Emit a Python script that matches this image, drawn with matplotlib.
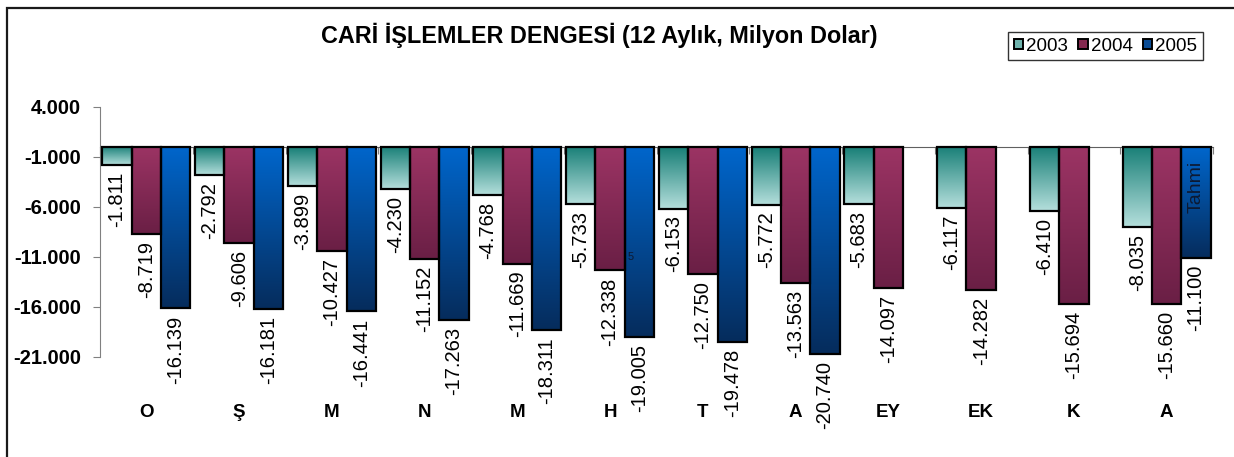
import numpy as np
import matplotlib
matplotlib.use('Agg')
import matplotlib.pyplot as plt
from matplotlib.colors import LinearSegmentedColormap
from matplotlib.patches import Rectangle, Patch

plt.rcParams['font.family'] = ['Liberation Sans', 'DejaVu Sans']

# aylar (12 aylık kümülatif cari denge, milyon $)
aylar = ['O', 'Ş', 'M', 'N', 'M', 'H', 'T', 'A', 'EY', 'EK', 'K', 'A']
yillar = ['2003', '2004', '2005']
d2003 = [-1811, -2792, -3899, -4230, -4768, -5733, -6153, -5772, -5683, -6117, -6410, -8035]
d2004 = [-8719, -9606, -10427, -11152, -11669, -12338, -12750, -13563, -14097, -14282, -15694, -15660]
d2005 = [-16139, -16181, -16441, -17263, -18311, -19005, -19478, -20740, np.nan, np.nan, np.nan, -11100]
y_ticks = list(range(-21000, 4001, 5000))

# renk geçişleri (üst, alt)
renkler = [('#187f77', '#b5dfdc'), ('#9c3464', '#6a1f45'), ('#0066cc', '#062c5c')]
orta = ['#6fb3ad', '#84294f', '#0a4c95']


def tr_fmt(v):
    return f"{int(v):,}".replace(',', '.')


def gradyan(ax, bar, ust, alt):
    x0 = bar.get_x()
    w = bar.get_width()
    ya, yb = sorted([bar.get_y(), bar.get_y() + bar.get_height()])
    cmap = LinearSegmentedColormap.from_list('g', [alt, ust])
    grad = np.linspace(0, 1, 256).reshape(-1, 1)
    im = ax.imshow(grad, extent=(x0, x0 + w, ya, yb), origin='lower', cmap=cmap,
                   aspect='auto', zorder=2.9, interpolation='bilinear')
    im.set_clip_path(bar)


fig = plt.figure(figsize=(12.34, 4.57), dpi=100)
ax = fig.add_axes([100 / 1234, 1 - 357 / 457, 1113 / 1234, 250 / 457])

genislik = 0.316
x = np.arange(len(aylar)) + 0.5
seriler = [d2003, d2004, d2005]

for k, veri in enumerate(seriler):
    for i, v in enumerate(veri):
        if np.isnan(v):
            continue
        xc = x[i] + (k - 1) * genislik
        b = ax.bar(xc, v, width=genislik, facecolor='none', edgecolor='black',
                   linewidth=1.6, zorder=3)[0]
        gradyan(ax, b, renkler[k][0], renkler[k][1])
        ax.annotate(tr_fmt(v), xy=(xc, v), xytext=(0, -5), textcoords='offset points',
                    rotation=90, ha='center', va='top', fontsize=14.5, zorder=4,
                    bbox=dict(boxstyle='square,pad=0.1', fc='white', ec='none'))

# tahmin notu
xt = x[11] + genislik
ax.text(xt, -4000, 'Tahmi', rotation=90, ha='center', va='center',
        fontsize=14, color='#0d1a33', zorder=5)
ax.text(x[5] + genislik / 2 + 0.03, -11000, '5', ha='left', va='center',
        fontsize=8, color='#0d1a33', zorder=5)

ax.set_xlim(0, 12)
ax.set_ylim(-21000, 4000)
ax.set_yticks(y_ticks)
ax.set_yticklabels([tr_fmt(t) for t in y_ticks], fontsize=14.5, fontweight='bold')
ax.set_xticks(np.arange(0, 13))
ax.set_xticklabels([])
ax.tick_params(axis='y', length=5, color='#808080', pad=8.6)
ax.tick_params(axis='x', length=5, color='#808080', direction='out')

for s in ['top', 'right']:
    ax.spines[s].set_visible(False)
ax.spines['left'].set_color('#808080')
ax.spines['bottom'].set_position(('data', 0))
ax.spines['bottom'].set_color('#606060')
ax.spines['bottom'].set_zorder(2)

for i, a in enumerate(aylar):
    ax.text(x[i], -26570, a, ha='center', va='center', fontsize=13.5,
            fontweight='bold', clip_on=False)

fig.text(599 / 1234, 1 - 42.7 / 457, 'CARİ İŞLEMLER DENGESİ (12 Aylık, Milyon Dolar)',
         ha='center', va='baseline', fontsize=16.8, fontweight='bold')

handles = [Patch(facecolor=orta[k], edgecolor='black', linewidth=1.4, label=yillar[k])
           for k in range(3)]
leg = fig.legend(handles=handles, loc='center', ncol=3,
                 bbox_to_anchor=(1105.5 / 1234, 1 - 46.2 / 457), bbox_transform=fig.transFigure,
                 fontsize=13.5, handlelength=0.5, handleheight=0.5, handletextpad=0.15,
                 columnspacing=0.55, borderpad=0.3, borderaxespad=0, fancybox=False)
leg.get_frame().set_edgecolor('black')
leg.get_frame().set_linewidth(1.0)

# dış çerçeve
fig.add_artist(Rectangle((7 / 1234, -0.2), 1.5, 1.2 - 8 / 457, transform=fig.transFigure,
                         fill=False, linewidth=1.6, edgecolor='#1a1a1a'))

fig.savefig('out.png', dpi=100)
